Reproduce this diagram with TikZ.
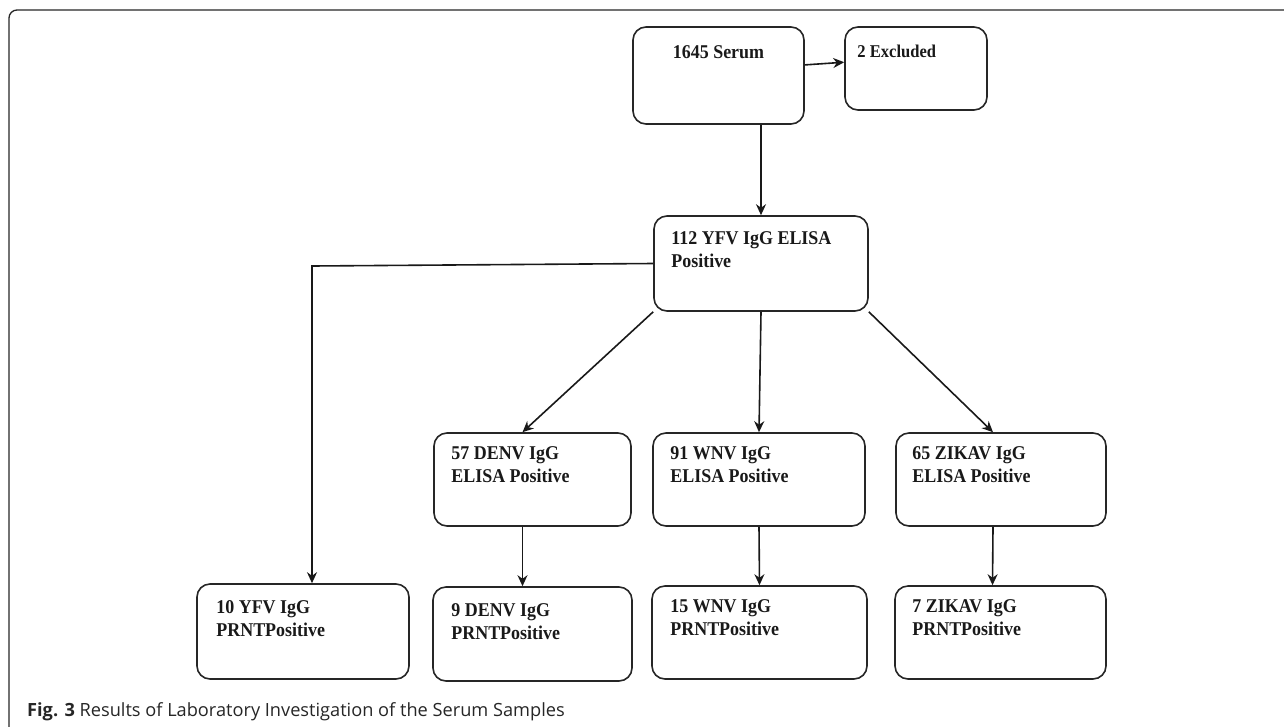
\documentclass[tikz,border=0pt]{standalone}
\usepackage{fontspec}
\setmainfont{Liberation Serif}
\newfontfamily\boxfont[FakeStretch=0.92]{Liberation Serif}
\newfontfamily\capfont{Open Sans}
\usepackage{tikz}
\usetikzlibrary{arrows.meta}

\tikzset{
    box/.style={draw=black!85, line width=1.6pt, rounded corners=13pt, inner sep=0pt},
    boxtext/.style={anchor=north west, align=left, inner sep=0pt, text=black!90,
        font=\boxfont\bfseries\fontsize{19.5}{23.5}\selectfont},
    link/.style={draw=black!90, line width=1.6pt},
}

\begin{document}
\begin{tikzpicture}[x=1pt, y=-1pt, >={Stealth[length=11pt, width=10pt]}]
        \useasboundingbox (0,0) rectangle (1284,726);
        \draw [line width=1.3pt, black!85, rounded corners=8pt] (1300,10) -- (9,10) -- (9,735) -- (30,735);

        \node [box, minimum width=171pt, minimum height=97pt,
            label={[boxtext, anchor=north, yshift=-19pt]north:1645 Serum}] (serum) at (718.5,75.5) {};
        \node [box, minimum width=142pt, minimum height=83pt,
            label={[boxtext, xshift=13pt, yshift=-19pt, font=\boxfont\bfseries\fontsize{18}{22}\selectfont]north west:2 Excluded}] (excl) at (916,68.5) {};
        \node [box, minimum width=214pt, minimum height=95pt,
            label={[boxtext, xshift=18pt, yshift=-16pt]north west:{112 YFV IgG ELISA\\Positive}}] (yfvelisa) at (761,263.5) {};

        \node [box, minimum width=197pt, minimum height=93pt,
            label={[boxtext, xshift=18pt, yshift=-14pt]north west:{57 DENV IgG\\ELISA Positive}}] (denvelisa) at (532.5,479.5) {};
        \node [box, minimum width=212pt, minimum height=93pt,
            label={[boxtext, xshift=18pt, yshift=-14pt]north west:{91 WNV IgG\\ELISA Positive}}] (wnvelisa) at (759,479.5) {};
        \node [box, minimum width=210pt, minimum height=93pt,
            label={[boxtext, xshift=17pt, yshift=-14pt]north west:{65 ZIKAV IgG\\ELISA Positive}}] (zikvelisa) at (1001,479.5) {};

        \node [box, minimum width=212pt, minimum height=95pt,
            label={[boxtext, xshift=20pt, yshift=-17pt]north west:{10 YFV IgG\\PRNTPositive}}] (yfvprnt) at (303,631.5) {};
        \node [box, minimum width=199pt, minimum height=94pt,
            label={[boxtext, xshift=19pt, yshift=-17pt]north west:{9 DENV IgG\\PRNTPositive}}] (denvprnt) at (532.5,634) {};
        \node [box, minimum width=215pt, minimum height=93pt,
            label={[boxtext, xshift=19pt, yshift=-14pt]north west:{15 WNV IgG\\PRNTPositive}}] (wnvprnt) at (759.5,632.5) {};
        \node [box, minimum width=211pt, minimum height=93pt,
            label={[boxtext, xshift=18pt, yshift=-14pt]north west:{7 ZIKAV IgG\\PRNTPositive}}] (zikvprnt) at (1000.5,632.5) {};

        \coordinate (yfvbend) at (312,266);

        \draw [link, ->] (serum.7) -- (excl.175);
        \draw [link, ->] (yfvelisa.north |- serum.south) -- (yfvelisa.north);
        \draw [link, ->] (yfvelisa.west) -- (yfvbend) -- (yfvbend |- yfvprnt.north);
        \draw [link, ->] (yfvelisa.south west) -- ([xshift=-10pt]denvelisa.north);
        \draw [link, ->] (yfvelisa.south) -- (wnvelisa.north);
        \draw [link, ->] (yfvelisa.south east) -- ([xshift=-8pt]zikvelisa.north);
        \draw [link, ->] ([xshift=-10pt]denvelisa.south) -- ([xshift=-10pt]denvprnt.north);
        \draw [link, ->] (wnvelisa.south) -- (wnvprnt.north);
        \draw [link, ->] ([xshift=-8pt]zikvelisa.south) -- ([xshift=-8pt]zikvprnt.north);

        \node [anchor=base west, inner sep=0pt, text=black!85, font=\capfont\fontsize{18.2}{22}\selectfont]
            (caption) at (27,716) {\textbf{Fig. 3} Results of Laboratory Investigation of the Serum Samples};
\end{tikzpicture}
\end{document}
